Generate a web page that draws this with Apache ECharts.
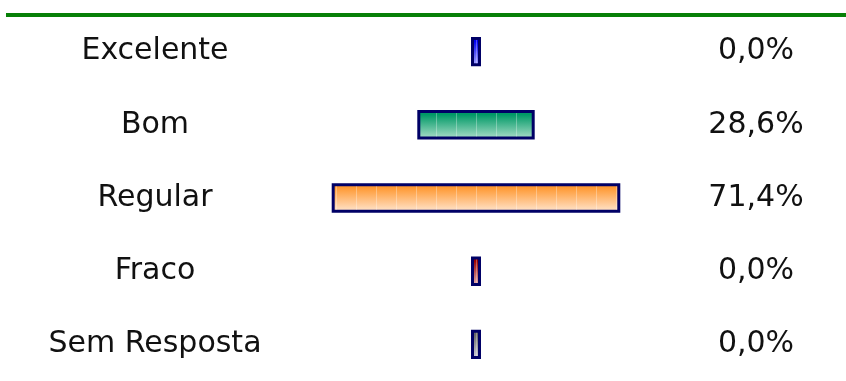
<!DOCTYPE html>
<html><head><meta charset="utf-8">
<script src="https://cdn.jsdelivr.net/npm/echarts@6/dist/echarts.min.js"></script>
<style>html,body{margin:0;padding:0;background:#fff}#c{width:846px;height:381px}</style>
</head><body><div id="c"></div>
<script>
const categories = ['Excelente', 'Bom', 'Regular', 'Fraco', 'Sem Resposta'];
const values = [0.0, 28.6, 71.4, 0.0, 0.0];
const topColors = ['#0000f4', '#009966', '#ff9933', '#990000', '#666666'];
const bottomColors = ['#b0b0ff', '#b0e0cc', '#ffe8d4', '#e6b8b8', '#d4d4e0'];
const pctLabels = values.map(v => v.toFixed(1).replace('.', ',') + '%');

const chart = echarts.init(document.getElementById('c'), null, {renderer: 'canvas'});
const font = {fontFamily: 'DejaVu Sans', fontSize: 30, color: '#111'};

chart.setOption({
  animation: false,
  graphic: [{type: 'rect', left: 6, top: 13, shape: {width: 840, height: 4}, style: {fill: '#078007'}}],
  grid: {left: 276, width: 400, top: 15, height: 372},
  xAxis: {type: 'value', min: -50, max: 50, show: false},
  yAxis: [
    {type: 'category', data: categories, inverse: true, position: 'left',
     axisLine: {show: false}, axisTick: {show: false}, splitLine: {show: false},
     axisLabel: Object.assign({align: 'center', margin: 121}, font)},
    {type: 'category', data: pctLabels, inverse: true, position: 'right',
     axisLine: {show: false}, axisTick: {show: false}, splitLine: {show: false},
     axisLabel: Object.assign({align: 'center', margin: 80}, font)}
  ],
  series: [{
    type: 'custom',
    data: values.map((v, i) => [i, v]),
    encode: {x: 1, y: 0},
    renderItem: function (params, api) {
      const idx = api.value(0);
      const v = api.value(1);
      const c = api.coord([0, idx]);
      const r = api.coord([v / 2, idx]);
      const h = api.size([0, 1])[1] * 0.36;
      let half = r[0] - c[0];
      if (half < 3.5) half = 3.5;
      const x0 = c[0] - half, x1 = c[0] + half, y0 = c[1] - h / 2;
      const grad = new echarts.graphic.LinearGradient(0, 0, 0, 1, [
        {offset: 0, color: topColors[idx]},
        {offset: 0.15, color: topColors[idx]},
        {offset: 1, color: bottomColors[idx]}
      ]);
      const children = [{
        type: 'rect', shape: {x: x0, y: y0, width: x1 - x0, height: h},
        style: {fill: grad, stroke: '#000066', lineWidth: 3}
      }];
      for (let t = -50; t <= 50; t += 5) {
        const px = Math.round(api.coord([t, idx])[0]) + 0.5;
        if (px > x0 + 2 && px < x1 - 2) {
          children.push({type: 'line', shape: {x1: px, y1: y0 + 1.5, x2: px, y2: y0 + h - 1.5},
            style: {stroke: 'rgba(255,255,255,0.3)', lineWidth: 1}});
        }
      }
      return {type: 'group', children: children};
    }
  }]
});
</script></body></html>
